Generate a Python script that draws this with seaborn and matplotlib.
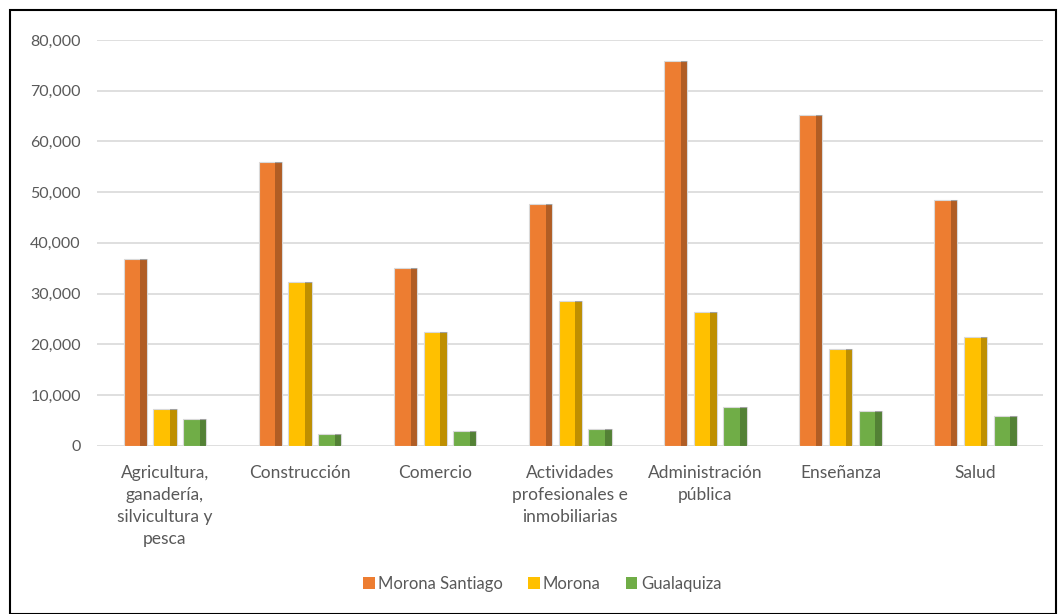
import pandas as pd
import matplotlib.pyplot as plt
import matplotlib.patches as mpatches
import seaborn as sns

# Data
sectores = [
    "Agricultura,\nganadería,\nsilvicultura y\npesca",
    "Construcción",
    "Comercio",
    "Actividades\nprofesionales e\ninmobiliarias",
    "Administración\npública",
    "Enseñanza",
    "Salud",
]
morona_santiago = [36800, 56000, 35100, 47700, 75800, 65200, 48500]
morona = [7200, 32300, 22500, 28600, 26400, 19000, 21400]
gualaquiza = [5300, 2300, 3000, 3300, 7600, 6900, 5900]

series = ["Morona Santiago", "Morona", "Gualaquiza"]
colores = ["#ED7D31", "#FFC000", "#70AD47"]

df = pd.DataFrame({
    "sector": sectores * 3,
    "serie": [series[0]] * 7 + [series[1]] * 7 + [series[2]] * 7,
    "valor": morona_santiago + morona + gualaquiza,
})

sns.set_theme(style="white")
plt.rcParams["font.family"] = ["Lato", "DejaVu Sans"]

fig = plt.figure(figsize=(10.59, 6.14), dpi=100)
ax = fig.add_axes([0.092, 0.274, 0.893, 0.661])

sns.barplot(data=df, x="sector", y="valor", hue="serie", palette=colores,
            saturation=1, width=0.66, gap=0.22, edgecolor="#d9d9d9",
            linewidth=0.8, ax=ax, legend=False)

# darker right side on each bar for a bit of the bevel look
for bar in ax.patches:
    x, w, h = bar.get_x(), bar.get_width(), bar.get_height()
    ax.add_patch(mpatches.Rectangle((x + w * 0.72, 0), w * 0.28, h,
                                    facecolor="black", alpha=0.25, linewidth=0))

ax.set_ylim(0, 80000)
ax.set_yticks(range(0, 80001, 10000))
ax.set_yticklabels([f"{v:,}" for v in range(0, 80001, 10000)])
ax.yaxis.grid(True, color="#d9d9d9", linewidth=1.2)
ax.set_axisbelow(True)
for s in ax.spines.values():
    s.set_visible(False)
ax.tick_params(axis="y", length=0, labelsize=11.5, colors="#595959", pad=12)
ax.tick_params(axis="x", length=0, labelsize=12.5, colors="#595959", pad=14)
for lbl in ax.get_xticklabels():
    lbl.set_linespacing(1.45)
ax.set_xlabel("")
ax.set_ylabel("")

handles = [mpatches.Patch(facecolor=c, edgecolor="none", label=s)
           for s, c in zip(series, colores)]
fig.legend(handles=handles, loc="center", bbox_to_anchor=(0.512, 0.049), ncol=3,
           frameon=False, fontsize=12, handlelength=0.7, handleheight=0.7,
           handletextpad=0.2, columnspacing=1.5, labelcolor="#595959")

# outer chart border
fig.add_artist(mpatches.Rectangle((0.009, 0.0), 0.988, 0.984, transform=fig.transFigure,
                                  fill=False, edgecolor="black", linewidth=1.5))

fig.savefig("out.png", dpi=100)
